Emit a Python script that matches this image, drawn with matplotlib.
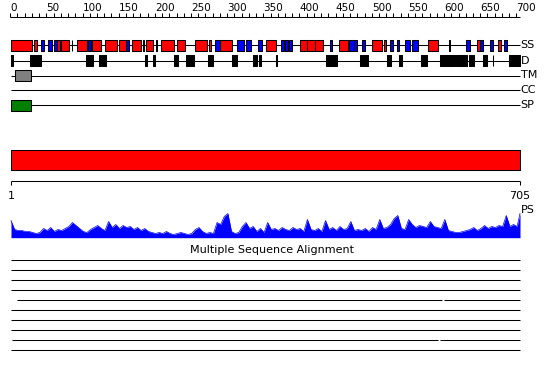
import matplotlib
matplotlib.use('Agg')
import matplotlib.pyplot as plt

plt.rcParams['font.family'] = 'DejaVu Sans'

seq_len = 705

# secondary structure (residue ranges)
helix = [(1, 30), (33, 37), (65, 69), (70, 81), (85, 86), (92, 106), (113, 126),
         (131, 148), (150, 160), (168, 181), (184, 185), (188, 197), (202, 203),
         (209, 227), (231, 241), (256, 272), (275, 278), (290, 307), (354, 368),
         (401, 411), (411, 422), (422, 433), (454, 467), (501, 514), (517, 520),
         (578, 592), (607, 608), (645, 649), (674, 679)]
strand = [(43, 47), (52, 58), (61, 65), (108, 112), (160, 164), (283, 290),
          (314, 323), (326, 333), (343, 348), (375, 379), (380, 384), (386, 390),
          (442, 445), (469, 476), (476, 480), (487, 490), (525, 530), (535, 538),
          (546, 553), (556, 564), (631, 636), (649, 654), (663, 667), (683, 687)]
# disorder
disorder = [(1, 4), (27, 43), (105, 115), (123, 126), (127, 133), (186, 189),
            (197, 200), (227, 232), (243, 254), (274, 281), (307, 310), (311, 314),
            (336, 341), (344, 347), (368, 369), (437, 452), (484, 485), (487, 489),
            (491, 495), (521, 527), (537, 542), (568, 577), (595, 615), (617, 632),
            (635, 638), (640, 641), (654, 660), (667, 668), (690, 705)]
tm = [(7, 29)]
sp = [(1, 29)]

# profile (PS)
ps_pos = list(range(1, 702, 5)) + [705]
ps_val = [16, 7, 6, 6, 5, 5, 4, 3, 4, 8,
          6, 9, 5, 7, 6, 8, 10, 14, 11, 8,
          5, 4, 7, 9, 11, 8, 6, 15, 9, 12,
          8, 11, 9, 10, 7, 9, 6, 8, 5, 4,
          3, 4, 3, 5, 3, 2, 3, 4, 3, 2,
          3, 7, 9, 5, 3, 4, 3, 14, 12, 20,
          23, 5, 3, 4, 10, 14, 8, 10, 5, 8,
          4, 14, 7, 8, 6, 9, 7, 6, 9, 7,
          8, 5, 17, 7, 6, 8, 5, 16, 7, 9,
          6, 10, 7, 8, 15, 6, 7, 6, 8, 5,
          9, 7, 17, 8, 9, 12, 18, 21, 8, 7,
          17, 12, 9, 11, 10, 9, 15, 10, 9, 8,
          17, 6, 5, 4, 4, 5, 6, 7, 9, 6,
          8, 11, 8, 10, 9, 11, 10, 21, 10, 12,
          10, 23]

# multiple sequence alignment rows (covered segments)
msa_rows = [[(1, 705)], [(1, 705)], [(1, 705)], [(1, 705)],
            [(9, 597), (600, 705)],
            [(1, 705)], [(1, 705)], [(1, 705)],
            [(2, 592), (595, 705)],
            [(1, 705)]]

ruler_ticks = list(range(0, 701, 10))
ruler_labels = list(range(0, 701, 50))
track_names = ['SS', 'D', 'TM', 'CC', 'SP']

fig = plt.figure(figsize=(5.5, 3.8), dpi=100)
ax = fig.add_axes([0, 0, 1, 1])
ax.set_xlim(-14.2, 746.5)
ax.set_ylim(380, 0)
ax.axis('off')

lw = 0.75

# ruler
ax.hlines(17, 0, seq_len, color='black', lw=lw)
ax.vlines(ruler_ticks, 13, 17, color='black', lw=lw)
for t in ruler_labels:
    ax.text(t, 8, str(t), ha='left', va='center', fontsize=7.5)

# tracks
track_y = [45, 60.5, 75.5, 90, 105]
for name, y in zip(track_names, track_y):
    ax.hlines(y, 1, seq_len, color='black', lw=lw, zorder=1)
    ax.text(seq_len + 1, y, name, ha='left', va='center', fontsize=8)


def boxes(segs, y, color):
    ax.broken_barh([(a, b - a) for a, b in segs], (y - 5.5, 11),
                   facecolors=color, edgecolors='black', linewidth=lw, zorder=2)


boxes(helix, track_y[0], '#ff0000')
boxes(strand, track_y[0], '#0000ff')
boxes(disorder, track_y[1], 'black')
boxes(tm, track_y[2], '#808080')
boxes(sp, track_y[4], '#008000')

# full-length domain bar
ax.broken_barh([(1, seq_len - 1)], (150, 20), facecolors='#ff0000',
               edgecolors='black', linewidth=lw, zorder=2)

# sequence ruler
ax.hlines(180.5, 1, seq_len, color='black', lw=lw)
ax.vlines([1, seq_len], 180.5, 184.5, color='black', lw=lw)
ax.text(1, 196, '1', ha='center', va='center', fontsize=8)
ax.text(seq_len, 196, str(seq_len), ha='center', va='center', fontsize=8)

# PS profile
base = 236.5
top = [base - v for v in ps_val]
ax.fill_between(ps_pos, base, top, color='#0000ff', linewidth=0)
ax.plot(ps_pos, top, color='#0000ff', lw=0.5)
ax.hlines(base, 1, seq_len, color='#0000ff', lw=1)
ax.text(seq_len + 1, 210, 'PS', ha='left', va='center', fontsize=8)

# MSA
ax.text(seq_len / 2 + 10, 250, 'Multiple Sequence Alignment',
        ha='center', va='center', fontsize=8)
for i, row in enumerate(msa_rows):
    y = 260 + 10 * i
    for a, b in row:
        ax.hlines(y, a, b, color='black', lw=lw)

fig.savefig('out.png', dpi=100)
